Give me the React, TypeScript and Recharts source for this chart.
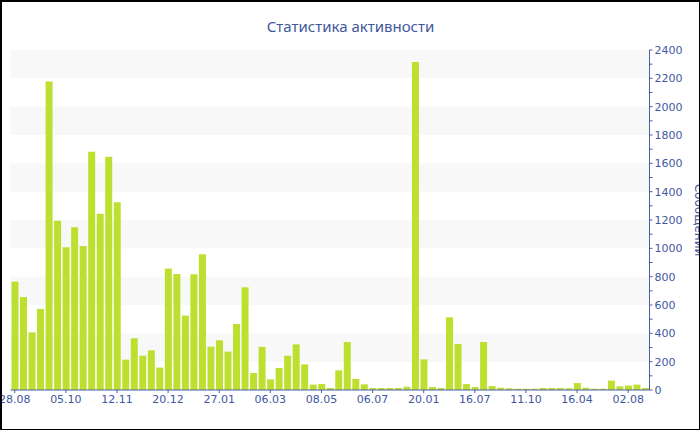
import { BarChart, Bar, XAxis, YAxis, ReferenceArea, Label } from 'recharts';

const tickLabels = ['28.08', '05.10', '12.11', '20.12', '27.01', '06.03', '08.05', '06.07', '20.01', '16.07', '11.10', '16.04', '02.08'];

const messages = [
  765, 656, 407, 572, 2177, 1195, 1007, 1148, 1016, 1682,
  1245, 1647, 1325, 214, 365, 242, 280, 158, 857, 819,
  525, 817, 958, 306, 351, 271, 466, 725, 120, 304,
  75, 155, 242, 322, 181, 38, 42, 14, 139, 339,
  78, 40, 14, 14, 14, 14, 23, 2316, 216, 21,
  14, 513, 325, 42, 21, 339, 28, 16, 12, 9,
  9, 9, 14, 14, 14, 12, 49, 16, 9, 9,
  66, 26, 31, 38, 14,
];

const yTicks = [0, 100, 200, 300, 400, 500, 600, 700, 800, 900, 1000, 1100, 1200, 1300, 1400, 1500, 1600, 1700, 1800, 1900, 2000, 2100, 2200, 2300, 2400];

const bands = [
  [200, 400],
  [600, 800],
  [1000, 1200],
  [1400, 1600],
  [1800, 2000],
  [2200, 2400],
];

const data = messages.map((v, i) => ({ i, v }));

const AXIS = '#4b5fa5';
const TEXT = '#3f57a0';
const FONT = '"DejaVu Sans", Verdana, sans-serif';

const YTick = (props: any) => {
  const { x, y, payload } = props;
  if (payload.value % 200 !== 0) return <g />;
  return (
    <text x={x} y={y} dy="0.36em" fill={TEXT} fontSize={11} fontFamily={FONT} textAnchor="start">
      {payload.value}
    </text>
  );
};

export default function App() {
  return (
    <div
      style={{
        position: 'absolute',
        left: 0,
        top: 0,
        width: 700,
        height: 430,
        boxSizing: 'border-box',
        borderTop: '2px solid #000',
        borderLeft: '2px solid #000',
        borderRight: '1px solid #000',
        borderBottom: '1px solid #000',
        overflow: 'hidden',
        background: '#fff',
      }}
    >
      <style>{'body{margin:0}'}</style>
      <div
        style={{
          position: 'absolute',
          top: 14,
          left: 0,
          width: '100%',
          textAlign: 'center',
          fontFamily: '"Noto Sans", sans-serif',
          fontSize: 15,
          lineHeight: '20px',
          color: TEXT,
        }}
      >
        Статистика активности
      </div>
      <BarChart
        width={697}
        height={427}
        data={data}
        margin={{ top: 48, left: 8.5, right: 4.5, bottom: 9 }}
        barCategoryGap={1}
      >
        {bands.map(([a, b]) => (
          <ReferenceArea key={a} yAxisId="r" y1={a} y2={b} fill="#f8f8f8" fillOpacity={1} stroke="none" />
        ))}
        <XAxis
          dataKey="i"
          interval={5}
          tickFormatter={(v: number) => tickLabels[v / 6] ?? ''}
          stroke={AXIS}
          tickSize={3}
          tickMargin={2}
          height={30}
          tick={{ fill: TEXT, fontSize: 11, fontFamily: FONT }}
        />
        <YAxis
          yAxisId="r"
          orientation="right"
          width={45}
          domain={[0, 2400]}
          ticks={yTicks}
          interval={0}
          stroke={AXIS}
          tickSize={3}
          tickMargin={2}
          tick={<YTick />}
        >
          <Label
            content={(p: any) => {
              const vb = p.viewBox || {};
              const x = vb.x + vb.width;
              const y = vb.y + vb.height / 2;
              return (
                <text
                  x={x}
                  y={y}
                  transform={`rotate(90, ${x}, ${y})`}
                  textAnchor="middle"
                  fill={TEXT}
                  fontSize={12}
                  fontFamily={FONT}
                >
                  Сообщений
                </text>
              );
            }}
          />
        </YAxis>
        <Bar yAxisId="r" dataKey="v" fill="#bde030" isAnimationActive={false} />
      </BarChart>
    </div>
  );
}
